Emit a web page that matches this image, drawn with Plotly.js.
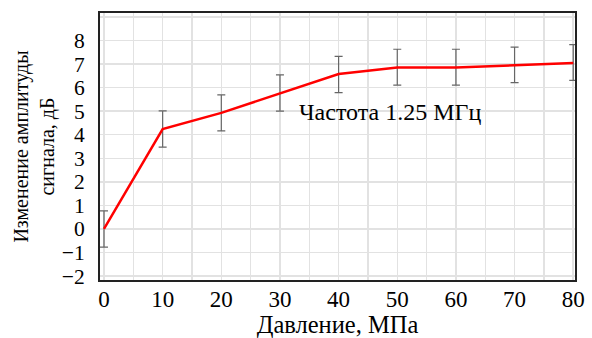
<!DOCTYPE html>
<html>
<head>
<meta charset="utf-8">
<script src="https://cdn.plot.ly/plotly-3.0.1.min.js"></script>
<style>html,body{margin:0;padding:0;background:#fff;}#chart{width:592px;height:338px;}</style>
</head>
<body>
<div id="chart"></div>
<script>
const pressure = [0, 10, 20, 30, 40, 50, 60, 70, 80];
const amplitudeChange = [0, 4.24, 4.93, 5.77, 6.58, 6.85, 6.85, 6.95, 7.05];
const errorPlus = [0.77, 0.77, 0.76, 0.77, 0.75, 0.78, 0.78, 0.77, 0.78];
const errorMinus = [0.77, 0.77, 0.77, 0.77, 0.79, 0.74, 0.74, 0.74, 0.74];
const yTickVals = [-2, -1, 0, 1, 2, 3, 4, 5, 6, 7, 8, 9];
const yTickText = ['−2', '−1', '0', '1', '2', '3', '4', '5', '6', '7', '8', ''];
const xTickVals = [0, 10, 20, 30, 40, 50, 60, 70, 80];
const xTickText = ['0', '10', '20', '30', '40', '50', '60', '70', '80'];
const xTitle = 'Давление, МПа';
const yTitle = 'Изменение амплитуды<br>сигнала, дБ';
const noteText = 'Частота 1.25 МГц';

const font = '"Liberation Serif", "Times New Roman", serif';

Plotly.newPlot('chart', [{
  x: pressure,
  y: amplitudeChange,
  type: 'scatter',
  mode: 'lines',
  line: {color: '#ff0000', width: 2.5},
  error_y: {
    type: 'data', symmetric: false,
    array: errorPlus, arrayminus: errorMinus,
    color: '#666666', thickness: 1.2, width: 4
  },
  cliponaxis: false,
  hoverinfo: 'skip'
}], {
  width: 592, height: 338,
  margin: {l: 100, r: 17, t: 13, b: 58},
  paper_bgcolor: '#ffffff',
  plot_bgcolor: '#ffffff',
  showlegend: false,
  font: {family: font, size: 20, color: '#000'},
  xaxis: {
    range: [-0.68, 80.3],
    tickvals: xTickVals, ticktext: xTickText,
    showgrid: true, gridcolor: '#e2e2e2', gridwidth: 1.5,
    minor: {dtick: 5, tick0: 0, showgrid: true, gridcolor: '#e2e2e2', gridwidth: 1.5},
    zeroline: false,
    showline: true, linecolor: '#222', linewidth: 2, mirror: true,
    ticks: 'outside', ticklen: 0, tickcolor: 'rgba(0,0,0,0)',
    ticklabelstandoff: -3,
    tickfont: {family: font, size: 23, color: '#000'},
    title: {text: xTitle, font: {family: font, size: 24.5, color: '#000'}, standoff: 7}
  },
  yaxis: {
    range: [-2.17, 9.17],
    tickvals: yTickVals, ticktext: yTickText,
    showgrid: true, gridcolor: '#e2e2e2', gridwidth: 1.5,
    zeroline: false,
    showline: true, linecolor: '#222', linewidth: 2, mirror: true,
    ticks: 'outside', ticklen: 9, tickcolor: 'rgba(0,0,0,0)',
    tickfont: {family: font, size: 21.5, color: '#000'},
    title: {text: yTitle, font: {family: font, size: 20, color: '#000'}, standoff: 2}
  },
  annotations: [{
    x: 32.9, y: 4.97, xref: 'x', yref: 'y',
    xanchor: 'left', yanchor: 'middle',
    text: noteText, showarrow: false,
    font: {family: font, size: 24, color: '#000'}
  }]
}, {staticPlot: true, displayModeBar: false});
</script>
</body>
</html>
